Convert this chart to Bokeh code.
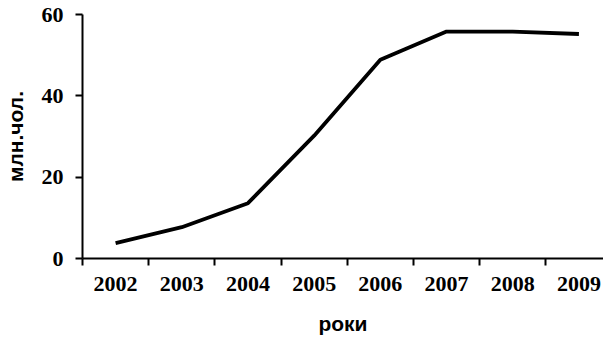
from bokeh.plotting import figure
from bokeh.models import Range1d, FixedTicker
from bokeh.embed import file_html
from bokeh.resources import INLINE

years = [2002, 2003, 2004, 2005, 2006, 2007, 2008, 2009]
values = [3.8, 7.7, 13.6, 30.2, 48.9, 55.8, 55.8, 55.2]
y_ticks = [0, 20, 40, 60]
x_label = "роки"
y_label = "млн.чол."

boundaries = [y - 0.5 for y in years] + [years[-1] + 0.5]

p = figure(width=603, height=338, output_backend="svg", toolbar_location=None,
           x_range=Range1d(years[0] - 0.5, years[0] - 0.5 + 524 / 66.57),
           y_range=Range1d(0, 60),
           min_border_left=79, min_border_top=14, min_border_bottom=80, min_border_right=0)
p.outline_line_color = None
p.xgrid.visible = False
p.ygrid.visible = False
p.background_fill_color = "white"
p.border_fill_color = "white"

p.line(years, values, line_color="black", line_width=3.8)

xa = p.xaxis[0]
xa.ticker = FixedTicker(ticks=years, minor_ticks=boundaries)
xa.major_tick_out = 0
xa.major_tick_in = 0
xa.minor_tick_out = 7
xa.minor_tick_in = 0
xa.minor_tick_line_color = "black"
xa.minor_tick_line_width = 2
xa.axis_line_width = 2
xa.axis_line_color = "black"
xa.major_label_text_font = "Liberation Serif"
xa.major_label_text_font_style = "bold"
xa.major_label_text_font_size = "22px"
xa.major_label_text_color = "black"
xa.major_label_standoff = 11
xa.axis_label = x_label
xa.axis_label_text_font = "Liberation Sans"
xa.axis_label_text_font_style = "bold"
xa.axis_label_text_font_size = "21px"
xa.axis_label_text_color = "black"
xa.axis_label_standoff = 18

ya = p.yaxis[0]
ya.ticker = FixedTicker(ticks=y_ticks)
ya.major_tick_out = 7
ya.major_tick_in = 0
ya.minor_tick_out = 0
ya.minor_tick_in = 0
ya.major_tick_line_width = 2
ya.axis_line_width = 2
ya.axis_line_color = "black"
ya.major_label_text_font = "Liberation Serif"
ya.major_label_text_font_style = "bold"
ya.major_label_text_font_size = "22px"
ya.major_label_text_color = "black"
ya.major_label_standoff = 12
ya.axis_label = y_label
ya.axis_label_text_font = "Liberation Sans"
ya.axis_label_text_font_style = "bold"
ya.axis_label_text_font_size = "21px"
ya.axis_label_text_color = "black"
ya.axis_label_standoff = 12

open("out.html", "w").write(file_html(p, INLINE))
